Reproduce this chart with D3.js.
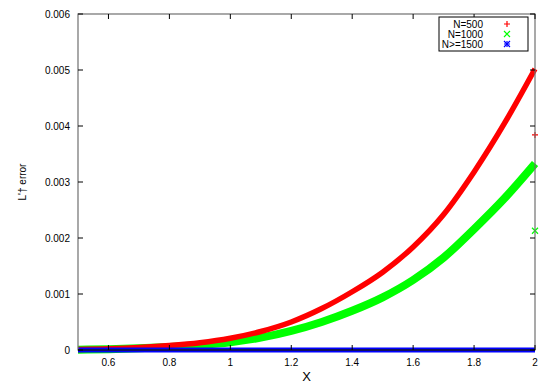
<!DOCTYPE html>
<html><head><meta charset="utf-8">
<script src="https://cdn.jsdelivr.net/npm/d3@7"></script>
<style>body{margin:0;background:#fff}svg{display:block}text{font-family:"Liberation Sans",Arial,sans-serif}</style>
</head><body>
<script>
const xs = [0.5,0.6,0.7,0.8,0.9,1.0,1.1,1.2,1.3,1.4,1.5,1.6,1.7,1.8,1.9,2.0];
const n500 = [0.00001,0.000022,0.000045,0.00008,0.00013,0.00021,0.00033,0.0005,0.00074,0.00104,0.00139,0.00184,0.00242,0.00318,0.00405,0.00502];
const n1000 = [0.000006,0.000015,0.00003,0.000055,0.00009,0.00014,0.00022,0.00034,0.0005,0.0007,0.00094,0.00125,0.00165,0.00216,0.00271,0.00333];
const n1500 = [0,0,0,0,0,0,0,0,0,0,0,0,0,0,0,0];
const extraX = [2.0];
const extra500 = [0.00384];
const extra1000 = [0.00213];
const xTicks = [0.6,0.8,1,1.2,1.4,1.6,1.8,2];
const yTicks = [0,0.001,0.002,0.003,0.004,0.005,0.006];
const labels = ["N=500","N=1000","N>=1500"];
const colors = ["#ff0000","#00ff00","#0000ff"];

const W=550,H=385, L=78,R=535,T=14,B=350;
const svg=d3.select("body").append("svg").attr("width",W).attr("height",H);
const x=d3.scaleLinear().domain([0.5,2]).range([L,R]);
const y=d3.scaleLinear().domain([0,0.006]).range([B,T]);

// series
const line=d3.line().x(d=>x(d[0])).y(d=>y(d[1])).curve(d3.curveMonotoneX);
const series=[n500,n1000,n1500];
const widths=[5.5,8,5];
[1,0,2].forEach(i=>{
  svg.append("path").datum(xs.map((v,j)=>[v,series[i][j]]))
    .attr("d",line).attr("fill","none").attr("stroke",colors[i])
    .attr("stroke-width",widths[i]).attr("stroke-linecap","butt");
});
// extra points
function plus(g,cx,cy,c){g.append("path").attr("d",`M${cx-3},${cy}H${cx+3}M${cx},${cy-3}V${cy+3}`).attr("stroke",c).attr("stroke-width",1.2);}
function cross(g,cx,cy,c){g.append("path").attr("d",`M${cx-3},${cy-3}L${cx+3},${cy+3}M${cx-3},${cy+3}L${cx+3},${cy-3}`).attr("stroke",c).attr("stroke-width",1.2);}
function star(g,cx,cy,c){plus(g,cx,cy,c);cross(g,cx,cy,c);}
extraX.forEach((v,j)=>{plus(svg,x(v),y(extra500[j]),colors[0]);cross(svg,x(v),y(extra1000[j]),colors[1]);});

// border
svg.append("rect").attr("x",L).attr("y",T).attr("width",R-L).attr("height",B-T)
  .attr("fill","none").attr("stroke","#707070").attr("stroke-width",1.2);
svg.append("line").attr("x1",L).attr("x2",R).attr("y1",B).attr("y2",B).attr("stroke","#000040").attr("stroke-width",1.5);

// ticks
const tk=5;
const g=svg.append("g");
xTicks.forEach(v=>{
  const px=x(v);
  g.append("line").attr("x1",px).attr("x2",px).attr("y1",B).attr("y2",B-tk).attr("stroke","#000");
  g.append("line").attr("x1",px).attr("x2",px).attr("y1",T).attr("y2",T+tk).attr("stroke","#000");
  g.append("text").attr("x",px).attr("y",B+16).attr("text-anchor","middle").attr("font-size",10).text(d3.format("")(v));
});
yTicks.forEach(v=>{
  const py=y(v);
  g.append("line").attr("x1",L).attr("x2",L+tk).attr("y1",py).attr("y2",py).attr("stroke","#000");
  g.append("line").attr("x1",R).attr("x2",R-tk).attr("y1",py).attr("y2",py).attr("stroke","#000");
  g.append("text").attr("x",L-8).attr("y",py+3.5).attr("text-anchor","end").attr("font-size",10).text(v===0?"0":v.toFixed(3));
});
svg.append("text").attr("x",(L+R)/2).attr("y",381).attr("text-anchor","middle").attr("font-size",13).text("X");
svg.append("text").attr("transform","translate(26,182) rotate(-90)").attr("text-anchor","middle").attr("font-size",10).text("L'† error");

// legend
const lg=svg.append("g");
lg.append("rect").attr("x",439).attr("y",17).attr("width",89).attr("height",34).attr("fill","#fff").attr("stroke","#000").attr("stroke-width",1);
labels.forEach((t,i)=>{
  const cy=24+i*10;
  lg.append("text").attr("x",483).attr("y",cy+3.5).attr("text-anchor","end").attr("font-size",10).text(t);
  const mx=507;
  if(i===0) plus(lg,mx,cy,colors[0]); else if(i===1) cross(lg,mx,cy,colors[1]); else star(lg,mx,cy,colors[2]);
});
</script>
</body></html>
